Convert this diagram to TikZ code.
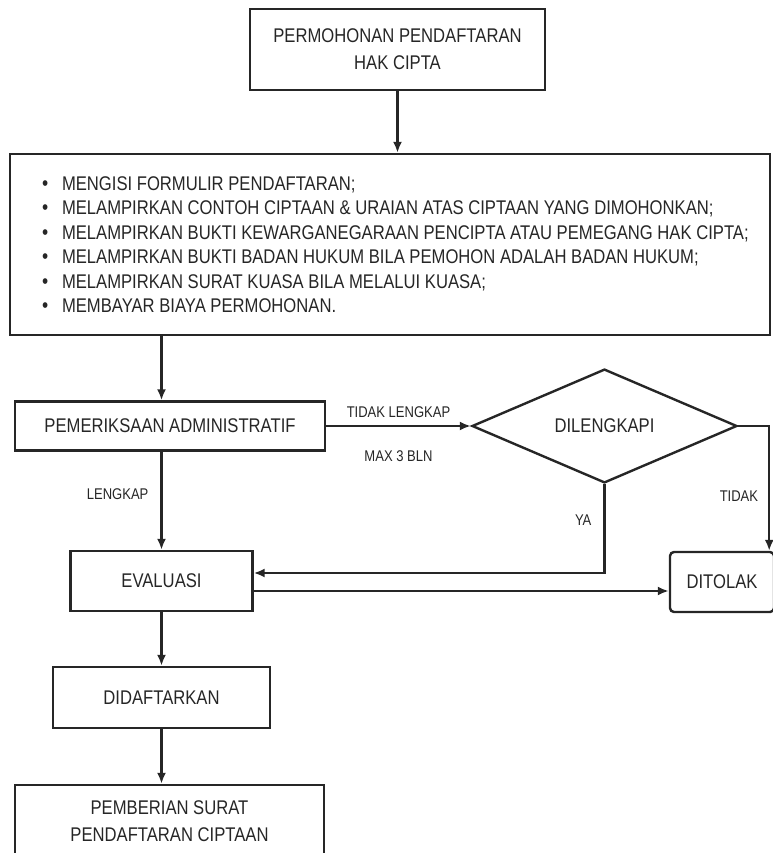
\documentclass[tikz,border=0pt]{standalone}
\usepackage{fontspec}
\setmainfont{Liberation Sans}[FakeStretch=0.84]
\usetikzlibrary{arrows.meta,shapes.geometric,positioning}

\newcommand{\butir}{\makebox[20pt][l]{\fontsize{21}{21}\selectfont\textbullet}}

\begin{document}
\begin{tikzpicture}[
        x=1pt, y=-1pt,
        kotak/.style={
            draw=black!85, line width=2.4pt, rectangle,
            inner sep=0pt, align=center, text=black!85,
            font=\fontsize{19.8}{27}\selectfont
        },
        belah/.style={
            draw=black!85, line width=2.4pt, diamond,
            inner sep=0pt, text=black!85,
            font=\fontsize{19.8}{27}\selectfont
        },
        daftar/.style={
            align=left, inner sep=0pt, text=black!85,
            font=\fontsize{19.8}{24.5}\selectfont
        },
        ket/.style={
            inner sep=0pt, text=black!85,
            font=\fontsize{15.5}{18}\selectfont
        },
        panah/.style={
            draw=black!85, line width=2.2pt,
            -{Latex[length=11pt,width=9pt]}
        }
      ]

  \useasboundingbox (0,0) rectangle (772,853);

  \node[kotak, minimum width=295, minimum height=81] (mohon) at (397.5,49.5)
        {PERMOHONAN PENDAFTARAN\\HAK CIPTA};
  \node[kotak, minimum width=760, minimum height=181] (syarat) at (390,244.5) {};
  \node[daftar, anchor=west] (isi) at ([xshift=33pt]syarat.west)
        {\butir MENGISI FORMULIR PENDAFTARAN;\\
         \butir MELAMPIRKAN CONTOH CIPTAAN \& URAIAN ATAS CIPTAAN YANG DIMOHONKAN;\\
         \butir MELAMPIRKAN BUKTI KEWARGANEGARAAN PENCIPTA ATAU PEMEGANG HAK CIPTA;\\
         \butir MELAMPIRKAN BUKTI BADAN HUKUM BILA PEMOHON ADALAH BADAN HUKUM;\\
         \butir MELAMPIRKAN SURAT KUASA BILA MELALUI KUASA;\\
         \butir MEMBAYAR BIAYA PERMOHONAN.};
  \node[kotak, minimum width=310, minimum height=49] (admin) at (170,426) {PEMERIKSAAN ADMINISTRATIF};
  \node[belah, minimum width=265, minimum height=98] (lengkapi) at (604.5,426) {DILENGKAPI};
  \node[kotak, minimum width=182, minimum height=60] (evaluasi) at (161.5,581) {EVALUASI};
  \node[kotak, rounded corners=4pt, minimum width=104, minimum height=60] (ditolak) at (722,582) {DITOLAK};
  \node[kotak, minimum width=217, minimum height=61] (didaftar) at (161.5,697.5) {DIDAFTARKAN};
  \node[kotak, minimum width=309, minimum height=73] (pemberian) at (169.5,821.5)
        {PEMBERIAN SURAT\\PENDAFTARAN CIPTAAN};

  \coordinate (tolakmasuk) at ([xshift=-6pt]ditolak.north east);

  \draw[panah] (mohon.south) -- (mohon.south |- syarat.north);
  \draw[panah] (evaluasi.north |- syarat.south) -- (evaluasi.north |- admin.north);
  \draw[panah] (evaluasi.north |- admin.south) -- node[ket, left=12pt, pos=0.43] {LENGKAP} (evaluasi.north);
  \draw[panah] (admin.east) -- node[ket, above=7pt] {TIDAK LENGKAP}
                                node[ket, below=24pt] {MAX 3 BLN} (admin.east -| lengkapi.west);
  \draw[panah] (lengkapi.east) -| node[ket, left=10pt, pos=0.78] {TIDAK} (tolakmasuk);
  \draw[panah] (lengkapi.south) |- node[ket, left=12pt, pos=0.2] {YA} ([yshift=8pt]evaluasi.east);
  \draw[panah] ([yshift=-10pt]evaluasi.east) -- ([yshift=-10pt]evaluasi.east -| ditolak.west);
  \draw[panah] (evaluasi.south) -- (evaluasi.south |- didaftar.north);
  \draw[panah] (didaftar.south) -- (didaftar.south |- pemberian.north);
\end{tikzpicture}
\end{document}
